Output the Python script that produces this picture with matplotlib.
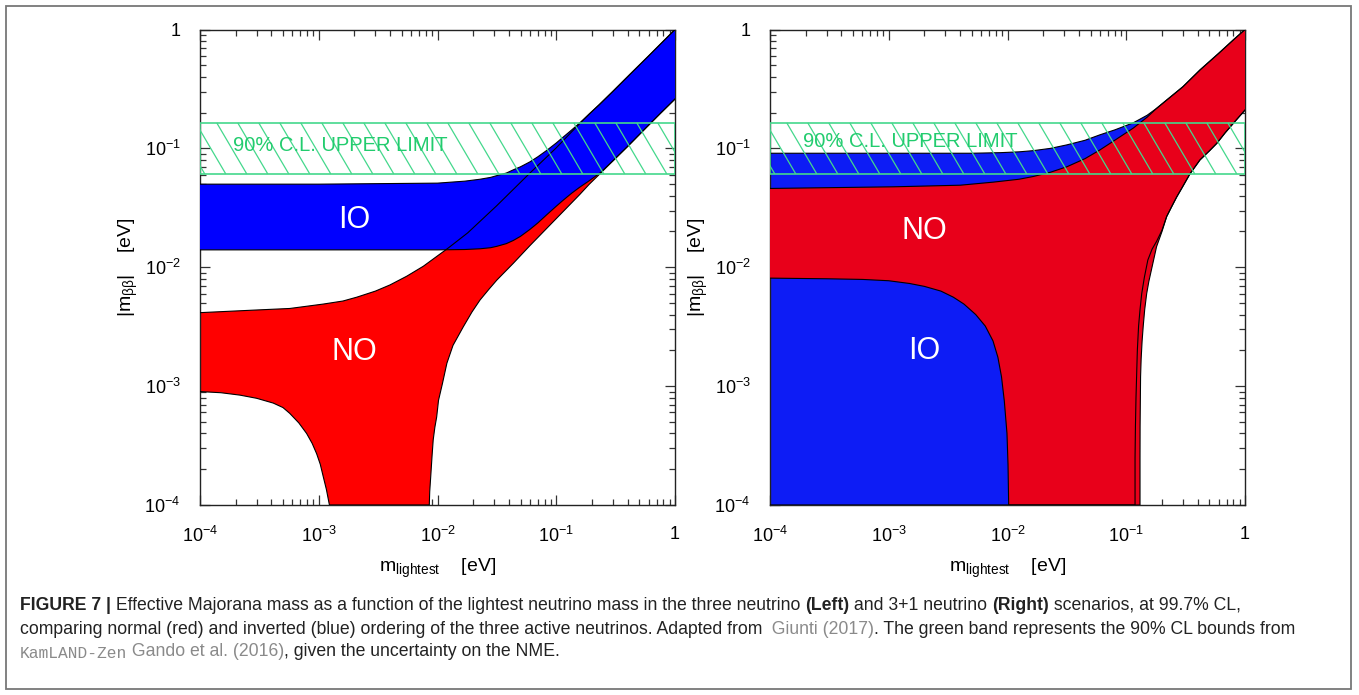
import numpy as np
import matplotlib.pyplot as plt
import matplotlib.transforms as mtransforms
from matplotlib.patches import Rectangle
from matplotlib.text import Annotation
from matplotlib.collections import LineCollection
from matplotlib.ticker import NullFormatter

plt.rcParams['font.family'] = ['Liberation Sans', 'DejaVu Sans']
plt.rcParams['mathtext.fontset'] = 'custom'
plt.rcParams['mathtext.rm'] = 'Liberation Sans'
plt.rcParams['mathtext.it'] = 'Liberation Sans:italic'
plt.rcParams['mathtext.bf'] = 'Liberation Sans:bold'
plt.rcParams['mathtext.default'] = 'regular'

# ---- values (eV) ----
# left panel: three neutrino mixing
io3_up_m = [1e-4, 1e-3, 0.01, 0.017, 0.0228, 0.028, 0.0316, 0.038, 0.0435, 0.05, 0.060, 0.07, 0.083,
            0.1, 0.115, 0.135, 0.158, 0.19, 0.23, 0.3, 0.418, 0.6, 0.8, 1.0]
io3_up_y = [0.050, 0.050, 0.051, 0.053, 0.055, 0.057, 0.059, 0.062, 0.066, 0.070, 0.077, 0.085, 0.096,
            0.111, 0.125, 0.143, 0.164, 0.195, 0.233, 0.302, 0.42, 0.6, 0.8, 1.0]
io3_lo_m = [1e-4, 1e-3, 0.01, 0.017, 0.0228, 0.028, 0.0316, 0.038, 0.0435, 0.05, 0.060, 0.07, 0.083,
            0.1, 0.115, 0.135, 0.158, 0.19, 0.233, 0.3, 0.4, 0.578, 0.75, 1.0]
io3_lo_y = [0.014, 0.014, 0.014, 0.0141, 0.0143, 0.0146, 0.0150, 0.0158, 0.0168, 0.0182, 0.0208, 0.0236, 0.0276,
            0.0326, 0.0368, 0.042, 0.0472, 0.0535, 0.062, 0.0785, 0.104, 0.151, 0.196, 0.26]

no3_up_m = [1e-4, 3e-4, 5.7e-4, 1.09e-3, 1.6e-3, 2.09e-3, 3e-3, 3.98e-3, 5.5e-3, 7.6e-3, 0.0123, 0.018,
            0.0316, 0.06, 0.1, 0.135, 0.158, 0.19, 0.23, 0.3, 0.418, 0.6, 0.8, 1.0]
no3_up_y = [0.00415, 0.00437, 0.0045, 0.0049, 0.0052, 0.0056, 0.0063, 0.0071, 0.0084, 0.0102, 0.0145, 0.0195,
            0.033, 0.062, 0.101, 0.138, 0.162, 0.195, 0.233, 0.302, 0.42, 0.6, 0.8, 1.0]
no3_lo_m = [1e-4, 1.5e-4, 2.17e-4, 3e-4, 4.14e-4, 5e-4, 5.7e-4, 6.8e-4, 7.9e-4, 8.8e-4, 9.6e-4, 1.03e-3,
            1.09e-3, 1.16e-3, 1.23e-3,
            8.53e-3, 8.6e-3, 8.77e-3, 9.0e-3, 9.2e-3, 9.5e-3, 9.84e-3, 0.0102, 0.011, 0.012, 0.0135, 0.0165,
            0.0195, 0.0228, 0.027, 0.0316, 0.0435, 0.06, 0.083, 0.115, 0.158, 0.19, 0.233, 0.3, 0.4, 0.578,
            0.75, 1.0]
no3_lo_y = [9.0e-4, 8.8e-4, 8.4e-4, 7.9e-4, 7.2e-4, 6.6e-4, 5.9e-4, 4.9e-4, 4.0e-4, 3.3e-4, 2.7e-4, 2.2e-4,
            1.74e-4, 1.35e-4, 1e-4,
            1e-4, 1.3e-4, 1.74e-4, 2.6e-4, 3.53e-4, 4.5e-4, 5.5e-4, 7.6e-4, 1.05e-3, 1.56e-3, 2.2e-3, 3.16e-3,
            4.2e-3, 5.3e-3, 6.5e-3, 7.8e-3, 0.0108, 0.0152, 0.0212, 0.0296, 0.041, 0.050, 0.061, 0.0785, 0.104,
            0.151, 0.196, 0.26]

# right panel: 3+1 mixing
io4_up_m = [1e-4, 1e-3, 5e-3, 8.65e-3, 0.0125, 0.0165, 0.023, 0.0316, 0.045, 0.060, 0.08, 0.1145, 0.15,
            0.18, 0.219, 0.3, 0.418, 0.6, 0.8, 1.0]
io4_up_y = [0.091, 0.091, 0.091, 0.092, 0.0935, 0.0957, 0.100, 0.107, 0.117, 0.13, 0.143, 0.164, 0.19,
            0.217, 0.255, 0.33, 0.457, 0.63, 0.82, 1.0]
io4_lo_m = [1e-4, 0.1186, 0.1186, 0.1195, 0.1208, 0.1222, 0.124, 0.127, 0.1306, 0.135, 0.142, 0.152, 0.165,
            0.18, 0.2, 0.219, 0.24, 0.266, 0.3, 0.344, 0.418, 0.5, 0.578, 0.68, 0.80, 1.0]
io4_lo_y = [1e-4, 1e-4, 2.5e-4, 4.6e-4, 8e-4, 1.2e-3, 2e-3, 3.2e-3, 4.4e-3, 6e-3, 8.2e-3, 0.0115, 0.0142,
            0.0165, 0.0205, 0.0267, 0.032, 0.039, 0.048, 0.061, 0.080, 0.095, 0.110, 0.135, 0.163, 0.21]

no4_up_m = [1e-4, 1.1e-3, 4e-3, 7.6e-3, 0.0125, 0.0165, 0.023, 0.0316, 0.045, 0.060, 0.08, 0.1145, 0.15,
            0.18, 0.219, 0.3, 0.418, 0.6, 0.8, 1.0]
no4_up_y = [0.046, 0.0475, 0.049, 0.052, 0.055, 0.058, 0.063, 0.070, 0.082, 0.097, 0.117, 0.148, 0.183,
            0.217, 0.255, 0.33, 0.457, 0.63, 0.82, 1.0]
no4_lo_m = [1e-4, 3e-4, 6e-4, 1e-3, 1.5e-3, 2e-3, 2.75e-3, 3.5e-3, 4.3e-3, 5.4e-3, 6.5e-3, 7.55e-3, 8.3e-3,
            8.9e-3, 9.4e-3, 9.9e-3, 0.0101, 0.01023,
            0.1306, 0.1306, 0.1308, 0.1315, 0.132, 0.1335, 0.136, 0.139, 0.143, 0.1486, 0.155, 0.164, 0.18,
            0.2, 0.219, 0.24, 0.266, 0.3, 0.344, 0.418, 0.5, 0.578, 0.68, 0.80, 1.0]
no4_lo_y = [8.1e-3, 8.0e-3, 7.9e-3, 7.7e-3, 7.3e-3, 6.9e-3, 6.3e-3, 5.6e-3, 4.9e-3, 4.0e-3, 3.2e-3, 2.4e-3, 1.75e-3,
            1.2e-3, 7.5e-4, 4.0e-4, 2.2e-4, 1e-4,
            1e-4, 2.5e-4, 4.6e-4, 8e-4, 1.2e-3, 1.7e-3, 2.4e-3, 3.2e-3, 4.4e-3, 6.0e-3, 7.6e-3, 9.8e-3, 0.0149,
            0.020, 0.0267, 0.032, 0.039, 0.048, 0.061, 0.080, 0.095, 0.110, 0.135, 0.163, 0.21]

# KamLAND-Zen 90% CL band
band_m = [1e-4, 1.0]
band_lo = 0.061
band_hi = 0.164

ticks = [1e-4, 1e-3, 1e-2, 1e-1, 1]
tick_labels = [r'$10^{-4}$', r'$10^{-3}$', r'$10^{-2}$', r'$10^{-1}$', '1']

GREEN = '#22cc6e'
GREEN_EDGE = '#44d88c'


def region(ax, m_up, y_up, m_lo, y_lo, color, z):
    xs = list(m_up) + list(m_lo)[::-1]
    ys = list(y_up) + list(y_lo)[::-1]
    ax.fill(xs, ys, color=color, lw=0, zorder=z)


def setup(ax):
    ax.set_xscale('log')
    ax.set_yscale('log')
    ax.set_xlim(1e-4, 1)
    ax.set_ylim(1e-4, 1)
    ax.set_xticks(ticks)
    ax.set_xticklabels(tick_labels)
    ax.set_yticks(ticks)
    ax.set_yticklabels(tick_labels)
    ax.xaxis.set_minor_formatter(NullFormatter())
    ax.yaxis.set_minor_formatter(NullFormatter())
    ax.tick_params(which='both', direction='in', top=True, right=True, color='#333', width=0.9)
    ax.tick_params(which='major', length=7, labelsize=13)
    ax.tick_params(axis='x', which='major', pad=15)
    ax.tick_params(axis='y', which='major', pad=14)
    ax.tick_params(which='minor', length=4)
    for s in ax.spines.values():
        s.set_color('#222')
        s.set_linewidth(1.0)
    ax.set_xlabel(r'$m_{\rm lightest}$    [eV]', fontsize=14, labelpad=8)
    ax.set_ylabel(r'$|m_{\beta\beta}|$    [eV]', fontsize=14, labelpad=3)


def band(ax, text_y):
    # band edges
    ax.fill_between(band_m, [band_lo, band_lo], [band_hi, band_hi], facecolor='none',
                    edgecolor=GREEN_EDGE, lw=1.2, zorder=5)
    # steep "\" hatching, x in axes fraction, y in data
    trans = mtransforms.blended_transform_factory(ax.transAxes, ax.transData)
    step, dx = 21 / 475, 30 / 475
    segs = [[(x0, band_hi), (x0 + dx, band_lo)] for x0 in np.arange(0.01 - dx, 1.0, step)]
    ax.add_collection(LineCollection(segs, colors=GREEN_EDGE, linewidths=0.9, transform=trans, zorder=5))
    ax.text(1.9e-4, text_y, '90% C.L. UPPER LIMIT', color=GREEN, fontsize=14.5,
            va='center', ha='left', zorder=6)


fig = plt.figure(figsize=(13.59, 6.95), dpi=100)
W, H = 1359, 695
axL = fig.add_axes([200 / W, 1 - 505 / H, 475 / W, 475.5 / H])
axR = fig.add_axes([770 / W, 1 - 505 / H, 475 / W, 475.5 / H])

# left panel: red below, blue on top
region(axL, no3_up_m, no3_up_y, no3_lo_m, no3_lo_y, '#ff0000', 2)
region(axL, io3_up_m, io3_up_y, io3_lo_m, io3_lo_y, '#0000ff', 3)
for m, y in [(no3_up_m, no3_up_y), (no3_lo_m, no3_lo_y), (io3_up_m, io3_up_y), (io3_lo_m, io3_lo_y)]:
    axL.plot(m, y, color='black', lw=0.8, zorder=4)
axL.text(2.0e-3, 0.025, 'IO', color='white', fontsize=22, ha='center', va='center', zorder=6)
axL.text(2.0e-3, 1.95e-3, 'NO', color='white', fontsize=22, ha='center', va='center', zorder=6)
band(axL, 0.106)
setup(axL)

# right panel: blue below, red on top
region(axR, io4_up_m, io4_up_y, io4_lo_m, io4_lo_y, '#0d1cf5', 2)
region(axR, no4_up_m, no4_up_y, no4_lo_m, no4_lo_y, '#e8001a', 3)
for m, y in [(io4_up_m, io4_up_y), (io4_lo_m, io4_lo_y), (no4_up_m, no4_up_y), (no4_lo_m, no4_lo_y)]:
    axR.plot(m, y, color='black', lw=0.8, zorder=4)
axR.text(2.0e-3, 0.020, 'NO', color='white', fontsize=22, ha='center', va='center', zorder=6)
axR.text(2.0e-3, 1.98e-3, 'IO', color='white', fontsize=22, ha='center', va='center', zorder=6)
band(axR, 0.114)
setup(axR)

# frame around the whole figure
fig.add_artist(Rectangle((6 / W, 1 - 689 / H), (1351 - 6) / W, (689 - 6) / H, transform=fig.transFigure,
                         fill=False, edgecolor='#777777', lw=1.3))

# caption
CAP = 12.7
TXT = '#222222'
LINK = '#8a8a8a'
reg = dict(color=TXT, fontsize=CAP)
bold = dict(color=TXT, fontsize=CAP, weight='bold')
link = dict(color=LINK, fontsize=CAP)
mono = dict(color=LINK, fontsize=CAP - 1, family=['Liberation Mono', 'DejaVu Sans Mono'])

caption = [
    (605, [('FIGURE 7 |', bold),
           (' Effective Majorana mass as a function of the lightest neutrino mass in the three neutrino ', reg),
           ('(Left)', bold), (' and 3+1 neutrino ', reg), ('(Right)', bold),
           (' scenarios, at 99.7% CL,', reg)]),
    (629, [('comparing normal (red) and inverted (blue) ordering of the three active neutrinos. Adapted from', reg),
           ('  Giunti (2017)', link),
           ('. The green band represents the 90% CL bounds from', reg)]),
    (653, [('KamLAND-Zen', mono), (' Gando et al. (2016)', link),
           (', given the uncertainty on the NME.', reg)]),
]

for y_px, pieces in caption:
    prev = None
    for text, style in pieces:
        if prev is None:
            prev = fig.text(20 / W, 1 - y_px / H, text, ha='left', va='center', **style)
        else:
            ann = Annotation(text, xy=(1, 0), xycoords=prev, ha='left', va='bottom', **style)
            fig.add_artist(ann)
            prev = ann

fig.savefig('out.png', dpi=100)
